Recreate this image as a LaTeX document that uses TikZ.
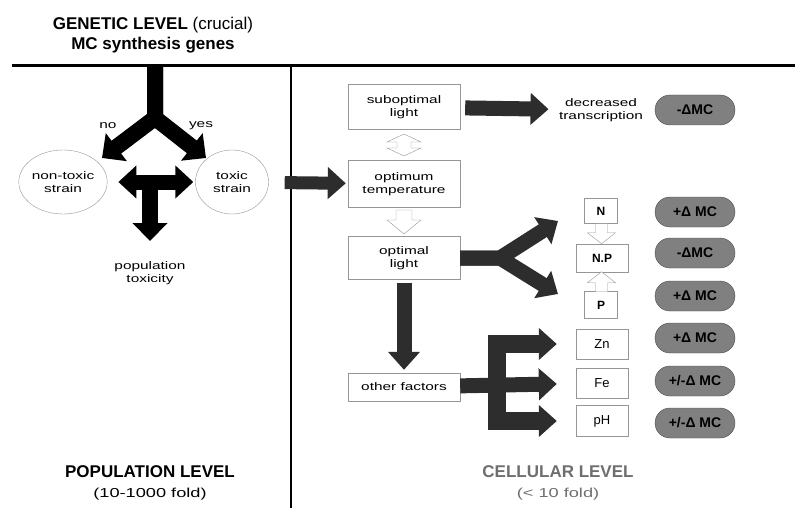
\documentclass[tikz,border=0pt]{standalone}
\usepackage{fontspec}
\setmainfont{Liberation Sans}
\newfontfamily\widesans{Liberation Sans}[FakeStretch=1.4]
\usetikzlibrary{arrows.meta,shapes.geometric,calc}

\definecolor{arrowgray}{RGB}{45,45,45}
\definecolor{pillgray}{RGB}{128,128,128}
\definecolor{boxgray}{RGB}{150,150,150}
\definecolor{levelgray}{RGB}{110,110,110}

\begin{document}
\begin{tikzpicture}[x=1pt,y=-1pt,
  small/.style={font=\widesans\fontsize{11}{12.5}\selectfont, align=center},
  level/.style={font=\bfseries\fontsize{17}{20}\selectfont, align=center},
  sublevel/.style={font=\widesans\fontsize{13}{15}\selectfont},
  strain/.style={small, ellipse, draw=boxgray, minimum width=73pt, minimum height=64pt, inner sep=0pt},
  factor/.style={small, draw=boxgray, minimum width=112pt},
  elem/.style={draw=boxgray, font=\fontsize{13}{14}\selectfont, minimum width=52pt, inner sep=0pt},
  pill/.style={draw=black!70, fill=pillgray, rounded corners=15pt, minimum width=80pt, minimum height=30pt, font=\bfseries\fontsize{14}{15}\selectfont},
  fat/.style={line width=16pt, -{Triangle[length=18pt,width=34pt]}},
  fatboth/.style={line width=15pt, {Triangle[length=18pt,width=32pt]}-{Triangle[length=18pt,width=32pt]}},
  fatg/.style={arrowgray, line width=15pt, -{Triangle[length=18pt,width=31pt]}},
  hollow/.style={draw=boxgray, fill=white, line join=miter}]

  \useasboundingbox (0,0) rectangle (795,508);

  % frame
  \coordinate (hl) at (12,66);
  \coordinate (hr) at (795,66);
  \coordinate (vt) at (291,66);
  \coordinate (vb) at (291,508);
  \draw[line width=3pt] (hl) -- (hr);
  \draw[line width=2pt] (vt) -- (vb);

  % level titles
  \node[level] (genetic) at (153,35) {GENETIC LEVEL \mdseries(crucial)\\MC synthesis genes};
  \node[level] (poplevel) at (150,472) {POPULATION LEVEL};
  \node[sublevel] (popfold) at (150,494) {(10-1000 fold)};
  \node[level, levelgray] (celllevel) at (558,472) {CELLULAR LEVEL};
  \node[sublevel, levelgray] (cellfold) at (558,494) {(< 10 fold)};

  % population side
  \node[strain] (nontoxic) at (63,182) {non-toxic\\strain};
  \node[strain] (toxic) at (232,182) {toxic\\strain};
  \node[small] (poptox) at (150,273) {population\\toxicity};
  \coordinate (gtop) at (155,66);
  \coordinate (split) at (155,118);
  \coordinate (notip) at (102,158);
  \coordinate (yestip) at (206,158);
  \draw[fat] (gtop) -- (split) -- (notip);
  \draw[fat] (gtop) -- (split) -- (yestip);
  \node[small] (no) at (108,126) {no};
  \node[small] (yes) at (201,126) {yes};
  \draw[fatboth] (nontoxic) -- (toxic) [shorten <=11pt, shorten >=2pt];
  \coordinate (tee) at (150,182);
  \coordinate (teetip) at (150,241);
  \draw[fat] (tee) -- (teetip);

  % cellular side
  \node[factor, minimum height=45pt] (subopt) at (404,107) {suboptimal\\light};
  \node[factor, minimum height=47pt] (temp) at (404,184) {optimum\\temperature};
  \node[factor, minimum height=43pt] (optl) at (404,258) {optimal\\light};
  \node[factor, minimum height=28pt] (other) at (404,387) {other factors};
  \node[small] (decr) at (601,110) {decreased\\transcription};

  \draw[fatg, line width=13pt] (toxic) -- (temp) [shorten <=16pt, shorten >=2pt];
  \draw[fatg] (subopt) -- (decr) [shorten <=5pt, shorten >=7pt];
  \draw[fatg] (optl) -- (other) [shorten <=3pt, shorten >=3pt];

  % hollow arrows
  \coordinate (tempud) at ($(subopt.south)!0.5!(temp.north)$);
  \coordinate (tempdown) at ($(temp.south)!0.5!(optl.north)$);
  \draw[hollow, shift={(tempud)}] (0,-11) -- (17,-3) -- (7,-3) -- (7,3) -- (17,3) -- (0,11)
    -- (-17,3) -- (-7,3) -- (-7,-3) -- (-17,-3) -- cycle;
  \draw[hollow, shift={(tempdown)}] (-8,-12) -- (8,-12) -- (8,-2) -- (17,-2) -- (0,12)
    -- (-17,-2) -- (-8,-2) -- cycle;

  \node[elem, minimum width=33pt, minimum height=25pt, font=\bfseries\fontsize{12}{13}\selectfont] (nbox) at (601,211) {N};
  \node[elem, minimum height=28pt, font=\bfseries\fontsize{12}{13}\selectfont] (npbox) at (602,258) {N.P};
  \node[elem, minimum width=33pt, minimum height=27pt, font=\bfseries\fontsize{12}{13}\selectfont] (pbox) at (601,305) {P};
  \node[elem, minimum height=30pt] (zn) at (602,344) {Zn};
  \node[elem, minimum height=30pt] (fe) at (602,383) {Fe};
  \node[elem, minimum height=31pt] (ph) at (602,421) {pH};

  \coordinate (ndown) at ($(nbox.south)!0.5!(npbox.north)$);
  \coordinate (pup) at ($(pbox.north)!0.5!(npbox.south)$);
  \draw[hollow, shift={(ndown)}] (-6,-10) -- (6,-10) -- (6,-1) -- (14,-1) -- (0,10)
    -- (-14,-1) -- (-6,-1) -- cycle;
  \draw[hollow, shift={(pup)}] (-6,10) -- (6,10) -- (6,1) -- (14,1) -- (0,-10)
    -- (-14,1) -- (-6,1) -- cycle;

  % fork from optimal light
  \coordinate (yfork) at (500,258);
  \coordinate (ntip) at (558,221);
  \coordinate (ptip) at (558,294);
  \draw[fatg] (optl.east) -- (yfork) -- (ntip);
  \draw[fatg] (optl.east) -- (yfork) -- (ptip);

  % E from other factors
  \coordinate (ebar) at (497,387);
  \draw[fatg] (other) -- (fe) [shorten >=19pt];
  \draw[fatg, line width=18pt] (ebar) |- (zn) [shorten >=19pt];
  \draw[fatg, line width=18pt] (ebar) |- (ph) [shorten >=19pt];

  % MC changes
  \node[pill] (mc1) at (695,110) {-ΔMC};
  \node[pill] (mc2) at (695,212) {+Δ MC};
  \node[pill] (mc3) at (695,253) {-ΔMC};
  \node[pill] (mc4) at (695,296) {+Δ MC};
  \node[pill] (mc5) at (695,338) {+Δ MC};
  \node[pill] (mc6) at (695,381) {+/-Δ MC};
  \node[pill] (mc7) at (695,423) {+/-Δ MC};
\end{tikzpicture}
\end{document}
